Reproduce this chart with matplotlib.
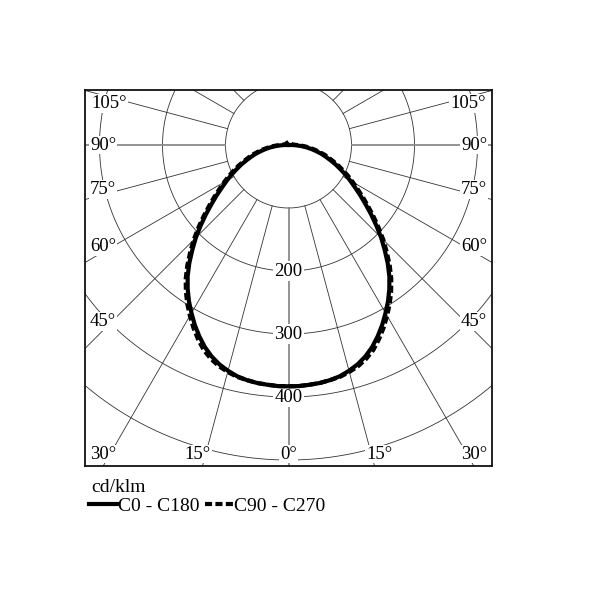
import numpy as np
import matplotlib.pyplot as plt
from matplotlib.lines import Line2D

# luminous intensity, cd/klm, vs gamma angle from nadir (deg)
gamma = [0, 2.5, 5, 7.5, 10, 12.5, 15, 17.5, 20, 22.5, 25, 27.5, 30, 32.5, 35,
         37.5, 40, 42.5, 45, 47.5, 50, 52.5, 55, 57.5, 60, 62.5, 65, 67.5, 70,
         72.5, 75, 77.5, 80, 82.5, 85, 87.5, 90, 92.5, 95, 100, 110, 180]
c0_c180 = [383, 383, 382, 381, 379, 376, 371, 365, 357, 347, 335, 322, 308, 294, 279,
           263, 245, 226, 208, 189, 171, 154, 139, 125, 113, 102, 91, 81, 71,
           62, 54, 45, 37, 29, 21, 13, 6, 2, 0, 0, 0, 0]
c90_c270 = [383, 383, 382, 381, 379, 377, 373, 368, 361, 352, 340, 327, 313, 299, 284,
            268, 250, 231, 213, 194, 176, 159, 144, 130, 118, 107, 96, 86, 76,
            67, 59, 50, 42, 34, 27, 20, 13, 10, 8, 6, 5, 5]

ring_values = [100, 200, 300, 400, 500]
ring_labels = [200, 300, 400]
spoke_angles = list(range(-180, 181, 15))
angle_labels = [0, 15, 30, 45, 60, 75, 90, 105]

plt.rcParams['font.family'] = ['Liberation Serif', 'DejaVu Serif']
plt.rcParams['font.size'] = 13.5

XMAX, YTOP, YBOT = 323, 87.3, -509.5


def to_xy(g_deg, r):
    g = np.radians(g_deg)
    return r * np.sin(g), -r * np.cos(g)


def full_curve(vals):
    g = np.array(gamma, dtype=float)
    v = np.array(vals, dtype=float)
    fg = np.concatenate([-g[::-1], g[1:]])
    fv = np.concatenate([v[::-1], v[1:]])
    return to_xy(fg, fv)


fig = plt.figure(figsize=(6, 6), dpi=100)
ax = fig.add_axes([85 / 600, 134 / 600, 407 / 600, 376 / 600])
ax.set_xlim(-XMAX, XMAX)
ax.set_ylim(YBOT, YTOP)
ax.set_xticks([])
ax.set_yticks([])
for sp in ax.spines.values():
    sp.set_linewidth(1.3)
    sp.set_color('#111')

# rings
t = np.linspace(0, 360, 721)
for rv in ring_values:
    x, y = to_xy(t, rv)
    ax.plot(x, y, color='#333', lw=0.6, zorder=1)

# spokes
for a in spoke_angles:
    x, y = to_xy(np.array([a, a]), np.array([ring_values[0], 800]))
    if a % 90 == 0:
        ax.plot(x, y, color='#8a8a8a', lw=1.3, zorder=1)
    else:
        ax.plot(x, y, color='#333', lw=0.6, zorder=1)

# ring value labels
for rv in ring_labels:
    ax.text(0, -rv, str(rv), ha='center', va='center', zorder=3,
            bbox=dict(boxstyle='square,pad=0.1', fc='white', ec='none'))

# angle labels along the spokes, kept inside the frame
xin, ybin, ytin = XMAX - 28.5, -(abs(YBOT) - 19), YTOP - 22
for a in angle_labels:
    la = a + 1.4 if 0 < a < 90 else a
    for s in ([1] if a == 0 else [-1, 1]):
        g = np.radians(la)
        rx = xin / np.sin(g) if np.sin(g) > 1e-6 else np.inf
        ry = abs(ybin) / np.cos(g) if np.cos(g) > 1e-6 else np.inf
        r = min(rx, ry)
        x, y = s * r * np.sin(g), -r * np.cos(g)
        if a <= 30:  # bottom row
            y = ybin
        if y > ytin:  # corner: push in from both edges
            y = ytin
            x = s * (xin - 10)
        ax.text(x, y, f'{a}°', ha='center', va='center', zorder=3,
                bbox=dict(boxstyle='square,pad=0.05', fc='white', ec='none'))

# curves
x, y = full_curve(c0_c180)
ax.plot(x, y, color='black', lw=3, solid_joinstyle='round', zorder=5)
x, y = full_curve(c90_c270)
ax.plot(x, y, color='black', lw=3, linestyle=(0, (1.7, 0.8)),
        dash_capstyle='butt', zorder=4)

# legend
fig.text(91 / 600, 1 - 488 / 600, 'cd/klm', va='center', ha='left', fontsize=14)
handles = [Line2D([], [], color='black', lw=3),
           Line2D([], [], color='black', lw=3, linestyle=(0, (1.7, 0.8)))]
fig.legend(handles, ['C0 - C180', 'C90 - C270'], loc='center left',
           bbox_to_anchor=(89 / 600, 1 - 506 / 600), ncol=2, frameon=False,
           fontsize=14, handlelength=1.45, handletextpad=0.05, columnspacing=0.25,
           borderpad=0, borderaxespad=0)

fig.savefig('out.png', dpi=100, facecolor='white')
